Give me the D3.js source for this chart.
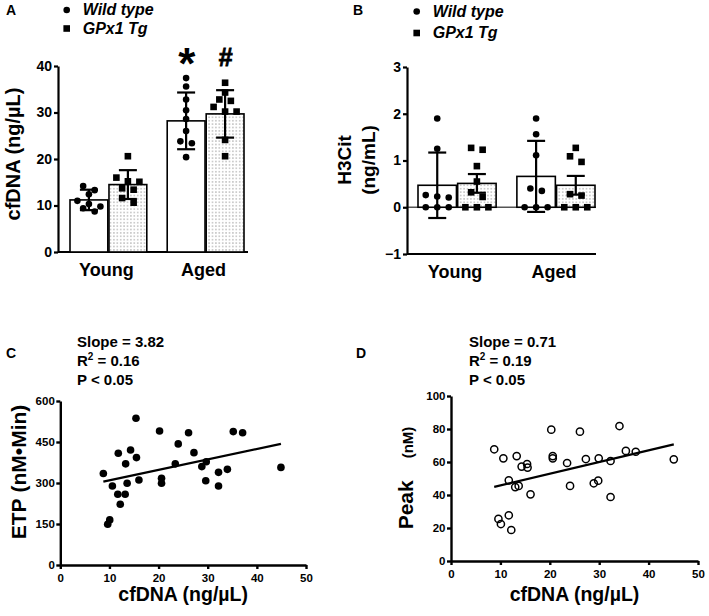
<!DOCTYPE html>
<html>
<head>
<meta charset="utf-8">
<script src="https://cdn.jsdelivr.net/npm/d3@7"></script>
<style>
  body { margin: 0; background: #fff; }
  svg { display: block; font-family: "Liberation Sans", Arial, sans-serif; font-weight: bold; }
</style>
</head>
<body>
<svg id="fig" width="709" height="616"></svg>
<script>
// ---- data ----
const groups = ['Young', 'Aged'];
const genotypes = ['Wild type', 'GPx1 Tg'];

// A: plasma cfDNA (ng/µL), one array per bar
const cfdnaYoungWT = [14.2, 13.3, 12.4, 11.0, 10.3, 9.8, 9.4, 8.7];
const cfdnaYoungTg = [20.6, 16.0, 15.2, 15.1, 13.7, 13.4, 11.6, 10.6];
const cfdnaAgedWT = [37.4, 35.6, 32.8, 30.5, 28.6, 26.0, 23.8, 23.4, 20.4];
const cfdnaAgedTg = [36.4, 34.3, 32.8, 32.5, 31.2, 30.2, 30.2, 24.1, 20.6];
const cfdnaMeanWT = [11.2, 28.2];
const cfdnaMeanTg = [14.5, 29.7];
const cfdnaErrWT = [2.2, 6.1];
const cfdnaErrTg = [3.1, 5.1];
const cfdnaTicks = [0, 10, 20, 30, 40];

// B: H3Cit (ng/mL)
const h3YoungWT = [1.9, 1.25, 0.26, 0.23, 0.21, 0, 0, 0];
const h3YoungTg = [1.27, 1.23, 0.88, 0.55, 0.32, 0.22, 0, 0, 0];
const h3AgedWT = [1.9, 1.56, 1.11, 0.4, 0.35, 0, 0, 0];
const h3AgedTg = [1.27, 1.09, 0.97, 0.28, 0.25, 0, 0, 0];
const h3MeanWT = [0.47, 0.66];
const h3MeanTg = [0.51, 0.47];
const h3ErrWT = [0.70, 0.76];
const h3ErrTg = [0.20, 0.20];
const h3Ticks = [-1, 0, 1, 2, 3];

// C: ETP vs cfDNA
const etpX = [8.76, 9.65, 10.06, 10.6, 11.8, 11.7, 12.2, 13.3, 13.2, 13.6, 14.3, 15.4, 15.5, 16.0, 20.2,
              20.6, 20.6, 23.4, 24.0, 26.1, 27.2, 28.8, 29.7, 29.6, 32.2, 32.2, 34.0, 35.2, 37.1, 44.9];
const etpY = [335, 149, 165, 289, 409, 259, 222, 370, 259, 299, 421, 537, 393, 311, 490,
              317, 299, 370, 443, 484, 411, 360, 378, 308, 339, 289, 350, 488, 484, 357];
const etpTicks = [0, 150, 300, 450, 600];

// D: Peak thrombin vs cfDNA
const peakX = [8.75, 10.6, 13.3, 14.3, 15.4, 15.5, 11.7, 13.0, 13.7, 16.1, 9.6, 10.1, 11.7, 12.2, 20.3,
               20.6, 20.6, 23.5, 24.1, 26.1, 27.3, 28.9, 29.8, 29.9, 32.3, 32.3, 34.1, 35.4, 37.4, 45.1];
const peakY = [67.7, 62.2, 63.6, 57.2, 58.8, 56.6, 48.9, 44.8, 45.5, 40.4, 25.5, 22.4, 27.7, 18.8, 79.6,
               63.6, 62.2, 59.4, 45.5, 78.4, 61.8, 47.1, 48.7, 62.2, 60.6, 38.8, 81.8, 66.7, 66.2, 61.6];
const peakTicks = [0, 20, 40, 60, 80, 100];

const cfdnaXTicks = [0, 10, 20, 30, 40, 50];
const fitSlope = [3.82, 0.71];
const fitIntercept = [271.5, 38.7];
const fitR2 = ['0.16', '0.19'];
const fitP = ['P < 0.05', 'P < 0.05'];

// ---- drawing ----
const svg = d3.select('#fig');
svg.append('rect').attr('width', 709).attr('height', 616).attr('fill', '#fff');

const defs = svg.append('defs');
const pat = defs.append('pattern').attr('id', 'dots')
  .attr('patternUnits', 'userSpaceOnUse').attr('width', 3.4).attr('height', 3.4);
pat.append('rect').attr('width', 3.4).attr('height', 3.4).attr('fill', '#fff');
pat.append('circle').attr('cx', 1.7).attr('cy', 1.7).attr('r', 0.7).attr('fill', '#8c8c8c');

// Prism-like column scatter: points that sit close in y share a row
function swarmOffsets(values, y, step, minDy) {
  const order = values.map((v, i) => i).sort((a, b) => values[b] - values[a]);
  const offs = new Array(values.length).fill(0);
  let row = [];
  const flush = () => {
    row.forEach((idx, k) => { offs[idx] = (k - (row.length - 1) / 2) * step; });
    row = [];
  };
  order.forEach(i => {
    if (row.length && (Math.abs(y(values[row[0]]) - y(values[i])) >= minDy || row.length >= 3)) flush();
    row.push(i);
  });
  flush();
  return offs;
}

function styleAxis(ax, w, fontSize) {
  ax.select('.domain').attr('stroke-width', w);
  ax.selectAll('.tick line').attr('stroke-width', w);
  ax.selectAll('.tick text').attr('font-size', fontSize).attr('font-weight', 'bold')
    .attr('font-family', '"Liberation Sans", Arial, sans-serif').attr('fill', '#000');
}

function legend(g, x, y0, gap) {
  const rows = g.append('g');
  genotypes.forEach((name, i) => {
    const cy = y0 + i * gap;
    if (i === 0) rows.append('circle').attr('cx', x).attr('cy', cy - 5).attr('r', 3.3);
    else rows.append('rect').attr('x', x - 3.3).attr('y', cy - 8.3).attr('width', 6.6).attr('height', 6.6);
    rows.append('text').attr('x', x + 16).attr('y', cy).attr('font-size', 16)
      .attr('font-style', 'italic').text(name);
  });
}

function barPanel(p) {
  const g = svg.append('g');
  const y = d3.scaleLinear().domain(p.domain).range(p.yRange);
  const x = d3.scaleBand().domain(groups).range(p.bandRange).paddingInner(0.21);
  const xs = d3.scaleBand().domain(genotypes).range([0, x.bandwidth()]).paddingInner(0.03);

  // zero line / x axis
  if (p.zeroLine) {
    g.append('line').attr('x1', p.axisX).attr('x2', p.axisEnd)
      .attr('y1', y(0)).attr('y2', y(0)).attr('stroke', '#555').attr('stroke-width', 1.5);
  }
  g.append('line').attr('x1', p.axisX).attr('x2', p.axisEnd)
    .attr('y1', y(p.domain[0])).attr('y2', y(p.domain[0])).attr('stroke', '#000').attr('stroke-width', 2.2);

  const yAx = g.append('g').attr('transform', `translate(${p.axisX},0)`)
    .call(d3.axisLeft(y).tickValues(p.ticks).tickFormat(d3.format('d'))
      .tickSize(4).tickPadding(2).tickSizeOuter(0));
  styleAxis(yAx, 2.2, 14);

  groups.forEach((grp, gi) => {
    genotypes.forEach((gt, si) => {
      const mean = p.means[si][gi];
      const err = p.errs[si][gi];
      const vals = p.values[si][gi];
      const bx = x(grp) + xs(gt);
      const cx = bx + xs.bandwidth() / 2;
      g.append('rect').attr('x', bx).attr('width', xs.bandwidth())
        .attr('y', y(mean)).attr('height', y(0) - y(mean))
        .attr('fill', si === 0 ? '#fff' : 'url(#dots)')
        .attr('stroke', '#000').attr('stroke-width', 1.6);

      const offs = swarmOffsets(vals, y, 11.5, 6.5);
      const pts = g.append('g');
      vals.forEach((v, k) => {
        if (si === 0) pts.append('circle').attr('cx', cx + offs[k]).attr('cy', y(v)).attr('r', 3.3);
        else pts.append('rect').attr('x', cx + offs[k] - 3.3).attr('y', y(v) - 3.3)
          .attr('width', 6.6).attr('height', 6.6);
      });

      const eb = g.append('g').attr('stroke', '#000').attr('stroke-width', 2.2);
      eb.append('line').attr('x1', cx).attr('x2', cx).attr('y1', y(mean + err)).attr('y2', y(mean - err));
      [mean + err, mean - err].forEach(v => {
        eb.append('line').attr('x1', cx - 9).attr('x2', cx + 9).attr('y1', y(v)).attr('y2', y(v));
      });
    });
    g.append('text').attr('x', x(grp) + x.bandwidth() / 2 - 2).attr('y', p.catY)
      .attr('text-anchor', 'middle').attr('font-size', 18).text(grp);
  });
  return {g, x, xs, y};
}

// Panel A
svg.append('text').attr('x', 6).attr('y', 15).attr('font-size', 14).text('A');
legend(svg, 66.7, 15, 18.5);
const A = barPanel({
  domain: [0, 40], yRange: [252, 66], bandRange: [70, 244], axisX: 58, axisEnd: 248,
  ticks: cfdnaTicks, catY: 276,
  values: [[cfdnaYoungWT, cfdnaAgedWT], [cfdnaYoungTg, cfdnaAgedTg]],
  means: [cfdnaMeanWT, cfdnaMeanTg], errs: [cfdnaErrWT, cfdnaErrTg]
});
A.g.append('text').attr('transform', 'translate(20,154) rotate(-90)')
  .attr('text-anchor', 'middle').attr('font-size', 20).text('cfDNA (ng/µL)');
A.g.append('text').attr('x', 186.7).attr('y', 79).attr('text-anchor', 'middle')
  .attr('font-size', 44).text('*');
A.g.append('text').attr('x', 225.7).attr('y', 66).attr('text-anchor', 'middle')
  .attr('font-size', 25).attr('stroke', '#000').attr('stroke-width', 0.8).text('#');

// Panel B
svg.append('text').attr('x', 353).attr('y', 15).attr('font-size', 14).text('B');
legend(svg, 416.7, 16.5, 21.5);
const B = barPanel({
  domain: [-1, 3], yRange: [254, 67], bandRange: [418, 595], axisX: 407, axisEnd: 596,
  ticks: h3Ticks, catY: 278, zeroLine: true,
  values: [[h3YoungWT, h3AgedWT], [h3YoungTg, h3AgedTg]],
  means: [h3MeanWT, h3MeanTg], errs: [h3ErrWT, h3ErrTg]
});
const bt = B.g.append('text').attr('transform', 'translate(351,160) rotate(-90)')
  .attr('text-anchor', 'middle').attr('font-size', 19);
bt.append('tspan').attr('x', 0).text('H3Cit');
bt.append('tspan').attr('x', 0).attr('dy', 24).text('(ng/mL)');

// Scatter panels
function scatterPanel(p) {
  const g = svg.append('g');
  const x = d3.scaleLinear().domain([0, 50]).range(p.xRange);
  const y = d3.scaleLinear().domain(p.yDomain).range(p.yRange);

  const xAx = g.append('g').attr('transform', `translate(0,${p.yRange[0]})`)
    .call(d3.axisBottom(x).tickValues(cfdnaXTicks).tickSize(4).tickPadding(5).tickSizeOuter(0));
  styleAxis(xAx, 2.4, 11.5);
  const yAx = g.append('g').attr('transform', `translate(${p.xRange[0]},0)`)
    .call(d3.axisLeft(y).tickValues(p.ticks).tickSize(4).tickPadding(1.5).tickSizeOuter(0));
  styleAxis(yAx, 2.4, 11.5);

  g.append('g').selectAll('circle').data(p.xs).join('circle')
    .attr('cx', d => x(d)).attr('cy', (d, i) => y(p.ys[i])).attr('r', p.filled ? 3.8 : 3.6)
    .attr('fill', p.filled ? '#000' : 'none').attr('stroke', '#000').attr('stroke-width', p.filled ? 0 : 1.5);

  const x0 = d3.min(p.xs), x1 = d3.max(p.xs);
  const fit = d3.line().x(d => x(d)).y(d => y(p.slope * d + p.intercept));
  g.append('path').attr('d', fit([x0, x1])).attr('stroke', '#000').attr('stroke-width', 2.2).attr('fill', 'none');

  const yt = g.append('text').attr('transform', `translate(${p.yTitleX},${p.yTitleY}) rotate(-90)`)
    .attr('text-anchor', 'middle').attr('font-size', p.yTitleSize[0]);
  yt.append('tspan').text(p.yTitle[0]);
  yt.append('tspan').attr('dx', p.yTitleGap).attr('font-size', p.yTitleSize[1]).text(p.yTitle[1]);

  g.append('text').attr('x', (p.xRange[0] + p.xRange[1]) / 2).attr('y', 601)
    .attr('text-anchor', 'middle').attr('font-size', 19.5).text('cfDNA (ng/µL)');

  const st = g.append('g').attr('font-size', 15);
  st.append('text').attr('x', p.statX).attr('y', 347).text(`Slope = ${p.slope.toFixed(2)}`);
  const r2 = st.append('text').attr('x', p.statX).attr('y', 366);
  r2.append('tspan').text('R');
  r2.append('tspan').attr('dy', -6).attr('font-size', 10).text('2');
  r2.append('tspan').attr('dy', 6).text(` = ${p.r2}`);
  st.append('text').attr('x', p.statX).attr('y', 385).text(p.pText);

  svg.append('text').attr('x', p.letterX).attr('y', 358).attr('font-size', 14).text(p.letter);
}

scatterPanel({
  letter: 'C', letterX: 6, xRange: [60.3, 306], yDomain: [0, 600], yRange: [565, 401],
  ticks: etpTicks, xs: etpX, ys: etpY, filled: true,
  slope: fitSlope[0], intercept: fitIntercept[0], r2: fitR2[0], pText: fitP[0],
  yTitle: ['ETP', '(nM•Min)'], yTitleSize: [21, 21], yTitleGap: 6, yTitleX: 26, yTitleY: 472, statX: 77
});
scatterPanel({
  letter: 'D', letterX: 356, xRange: [451, 698], yDomain: [0, 100], yRange: [561, 396],
  ticks: peakTicks, xs: peakX, ys: peakY, filled: false,
  slope: fitSlope[1], intercept: fitIntercept[1], r2: fitR2[1], pText: fitP[1],
  yTitle: ['Peak', '(nM)'], yTitleSize: [21, 15], yTitleGap: 22, yTitleX: 413, yTitleY: 478, statX: 469
});
</script>
</body>
</html>
